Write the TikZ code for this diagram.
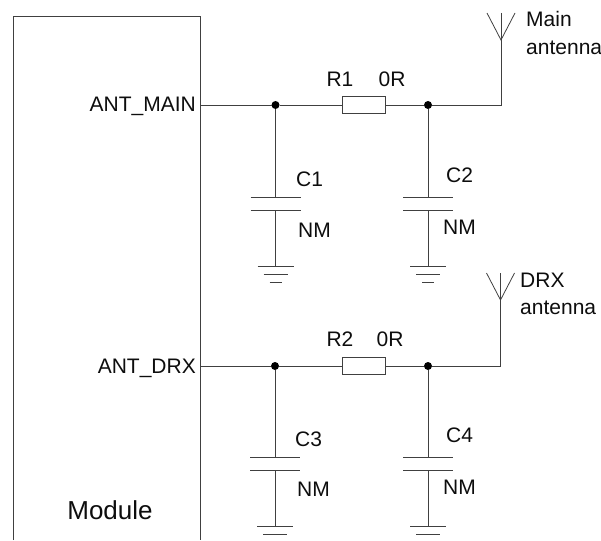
\documentclass[tikz,border=0pt]{standalone}
\usepackage{fontspec}
\setmainfont{Liberation Sans}
\tikzset{
  wire/.style={draw=black!75,line width=0.8pt},
  resistor/.style={draw=black!75,line width=0.8pt,fill=white,minimum width=43pt,minimum height=17pt,inner sep=0pt,outer sep=0pt},
  junction/.style={circle,fill=black,minimum size=8pt,inner sep=0pt,outer sep=0pt},
  lbl/.style={font=\fontsize{21}{21}\selectfont,inner sep=0pt,text=black!95}
}
\newcommand{\capgnd}[3]{% name, x, y of upper plate
  \coordinate (#1a) at (#2-25,#3);
  \coordinate (#1b) at (#2+25,#3);
  \coordinate (#1c) at (#2-25,#3+13);
  \coordinate (#1d) at (#2+25,#3+13);
  \coordinate (#1t) at (#2,#3);
  \coordinate (#1m) at (#2,#3+13);
  \coordinate (#1g) at (#2,#3+69);
  \draw[wire] (#1a) -- (#1b);
  \draw[wire] (#1c) -- (#1d);
  \draw[wire] (#1m) -- (#1g);
  \draw[wire] (#2-18,#3+69) -- (#2+18,#3+69);
  \draw[wire] (#2-12,#3+77) -- (#2+12,#3+77);
  \draw[wire] (#2-6,#3+85) -- (#2+6,#3+85);
}
\newcommand{\antenna}[3]{% name, x, y of arm tips
  \coordinate (#1j) at (#2,#3+27);
  \coordinate (#1l) at (#2-14,#3);
  \coordinate (#1r) at (#2+14,#3);
  \coordinate (#1u) at (#2,#3);
  \draw[wire] (#1l) -- (#1j) -- (#1r);
  \draw[wire] (#1u) -- (#1j);
}
\begin{document}
\begin{tikzpicture}[x=1pt,y=-1pt]
\useasboundingbox (0,0) rectangle (601,540);
\clip (0,0) rectangle (601,540);
% module
\coordinate (mtl) at (13,16);
\coordinate (mtr) at (200,16);
\coordinate (mbl) at (13,540);
\coordinate (mbr) at (200,540);
\draw[wire] (mbl) -- (mtl) -- (mtr) -- (mbr);
\node[lbl,font=\fontsize{26}{26}\selectfont,anchor=base] (module) at (110,519) {Module};
% main path
\coordinate (p1) at (200,105);
\node[lbl,anchor=base east] (antmain) at (196,112) {ANT\_MAIN};
\node[junction] (j1) at (275.5,105) {};
\node[junction] (j2) at (428,105) {};
\node[resistor] (r1) at (363.5,105) {};
\antenna{a1}{501}{13}
\coordinate (k1) at (501,105);
\draw[wire] (p1) -- (j1) -- (r1) -- (j2) -- (k1) -- (a1j);
\node[lbl,anchor=base] (r1l) at (340,87) {R1};
\node[lbl,anchor=base] (r1v) at (392,87) {0R};
\capgnd{c1}{275.5}{197}
\capgnd{c2}{428}{197}
\draw[wire] (j1) -- (c1t);
\draw[wire] (j2) -- (c2t);
\node[lbl,anchor=base west] (c1l) at (296,186) {C1};
\node[lbl,anchor=base west] (c1v) at (298,237) {NM};
\node[lbl,anchor=base west] (c2l) at (446,182) {C2};
\node[lbl,anchor=base west] (c2v) at (443,234) {NM};
\node[lbl,anchor=base west] (an1) at (526,27) {Main};
\node[lbl,anchor=base west] (an2) at (526,55) {antenna};
% drx path
\coordinate (p2) at (200,366);
\node[lbl,anchor=base east] (antdrx) at (196,373) {ANT\_DRX};
\node[junction] (j3) at (275,366) {};
\node[junction] (j4) at (428,366) {};
\node[resistor] (r2) at (363.5,366) {};
\antenna{a2}{500.5}{273}
\coordinate (k2) at (500.5,366);
\draw[wire] (p2) -- (j3) -- (r2) -- (j4) -- (k2) -- (a2j);
\node[lbl,anchor=base] (r2l) at (340,346) {R2};
\node[lbl,anchor=base] (r2v) at (390,346) {0R};
\capgnd{c3}{275}{457}
\capgnd{c4}{428}{457}
\draw[wire] (j3) -- (c3t);
\draw[wire] (j4) -- (c4t);
\node[lbl,anchor=base west] (c3l) at (295,446) {C3};
\node[lbl,anchor=base west] (c3v) at (297,496) {NM};
\node[lbl,anchor=base west] (c4l) at (446,442) {C4};
\node[lbl,anchor=base west] (c4v) at (443,494) {NM};
\node[lbl,anchor=base west] (an3) at (520,287) {DRX};
\node[lbl,anchor=base west] (an4) at (520,314) {antenna};
\end{tikzpicture}
\end{document}
